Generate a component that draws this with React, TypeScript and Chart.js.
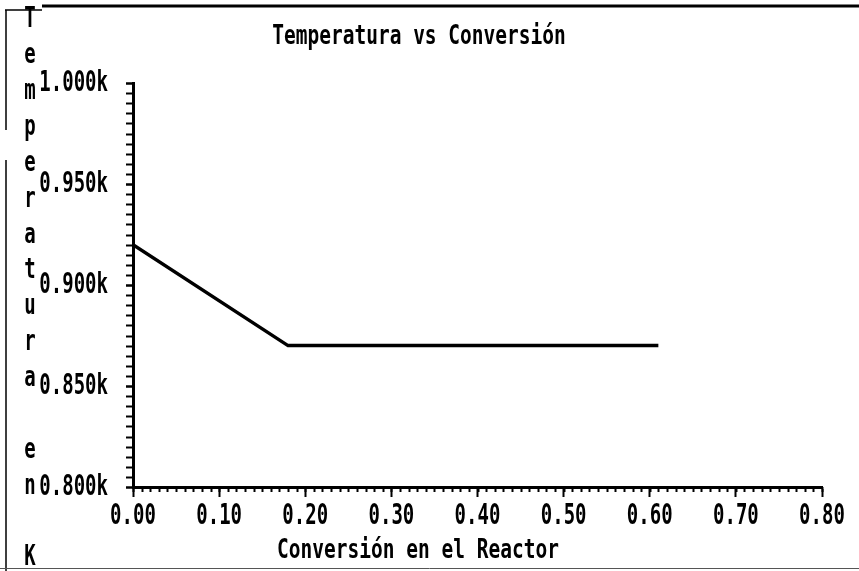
import React, { useEffect, useRef } from "react";
import { Chart, registerables } from "chart.js";

Chart.register(...registerables);

const conversion = [0, 0.18, 0.61];
const temperature = [920, 870, 870];
const chartTitle = "Temperatura vs Conversión";
const xTitle = "Conversión en el Reactor";
const yTitle = "Temperatura en K";
const xMin = 0;
const xMax = 0.8;
const xStep = 0.1;
const xMinorStep = 0.01;
const yMin = 800;
const yMax = 1000;
const yStep = 50;
const yMinorStep = 5;

const FONT = "'DejaVu Sans Mono', 'Liberation Mono', monospace";

function tallText(ctx: any, text: string, x: number, y: number, sy: number) {
  ctx.save();
  ctx.translate(x, y);
  ctx.scale(1, sy);
  ctx.fillText(text, 0, 0);
  ctx.restore();
}

const decorPlugin = {
  id: "decor",
  beforeDraw(chart: any) {
    const ctx = chart.ctx;
    ctx.save();
    ctx.fillStyle = "#ffffff";
    ctx.fillRect(0, 0, chart.width, chart.height);
    ctx.restore();
  },
  afterDraw(chart: any) {
    const ctx = chart.ctx;
    const xs = chart.scales.x;
    const ys = chart.scales.y;
    const area = chart.chartArea;
    ctx.save();
    ctx.strokeStyle = "#000";
    // minor x ticks
    ctx.lineWidth = 2;
    const nx = Math.round((xMax - xMin) / xMinorStep);
    for (let i = 0; i <= nx; i++) {
      const px = Math.round(xs.getPixelForValue(xMin + i * xMinorStep)) + 0.5;
      ctx.beginPath();
      ctx.moveTo(px, area.bottom);
      ctx.lineTo(px, area.bottom + 5);
      ctx.stroke();
    }
    // minor y ticks
    const ny = Math.round((yMax - yMin) / yMinorStep);
    for (let i = 0; i <= ny; i++) {
      const py = Math.round(ys.getPixelForValue(yMin + i * yMinorStep)) + 0.5;
      ctx.beginPath();
      ctx.moveTo(area.left - 7, py);
      ctx.lineTo(area.left, py);
      ctx.stroke();
    }
    // frame
    ctx.lineWidth = 3;
    ctx.beginPath();
    ctx.moveTo(42, 6);
    ctx.lineTo(chart.width, 6);
    ctx.stroke();
    ctx.lineWidth = 1.5;
    ctx.beginPath();
    ctx.moveTo(5, 10);
    ctx.lineTo(42, 10);
    ctx.moveTo(6, 10);
    ctx.lineTo(6, 130);
    ctx.moveTo(6, 160);
    ctx.lineTo(6, chart.height);
    ctx.stroke();
    ctx.strokeStyle = "#555";
    ctx.lineWidth = 1;
    ctx.beginPath();
    ctx.moveTo(0, 568.5);
    ctx.lineTo(chart.width, 568.5);
    ctx.stroke();
    // texts
    ctx.fillStyle = "#000";
    ctx.textBaseline = "middle";
    ctx.font = "bold 19px " + FONT;
    // tick labels (from the scales' own ticks)
    ctx.textAlign = "center";
    xs.ticks.forEach((t: any) => {
      const px = xs.getPixelForValue(t.value);
      tallText(ctx, Number(t.value).toFixed(2), px, 517, 1.5);
    });
    ctx.textAlign = "right";
    ys.ticks.forEach((t: any) => {
      const py = ys.getPixelForValue(t.value);
      tallText(ctx, (Number(t.value) / 1000).toFixed(3) + "k", 108, py + 1, 1.5);
    });
    ctx.textAlign = "center";
    ctx.font = "bold 19.5px " + FONT;
    tallText(ctx, chartTitle, 419, 37, 1.35);
    tallText(ctx, xTitle, 418, 551, 1.35);
    ctx.font = "bold 19px " + FONT;
    const letters = yTitle.split("");
    letters.forEach((ch, i) => {
      if (ch !== " ") tallText(ctx, ch, 30, 20 + i * 35.87, 1.5);
    });
    ctx.restore();
  },
};

export default function App() {
  const ref = useRef<HTMLCanvasElement | null>(null);
  useEffect(() => {
    if (!ref.current) return;
    const data = conversion.map((c, i) => ({ x: c, y: temperature[i] }));
    const chart = new Chart(ref.current, {
      type: "line",
      data: {
        datasets: [
          {
            data,
            borderColor: "#000",
            borderWidth: 3.5,
            pointRadius: 0,
            tension: 0,
            fill: false,
          },
        ],
      },
      options: {
        animation: false,
        responsive: false,
        events: [],
        layout: { padding: { top: 83, right: 37, left: 0, bottom: 0 } },
        plugins: {
          legend: { display: false },
          title: { display: false },
          tooltip: { enabled: false },
        },
        scales: {
          x: {
            type: "linear",
            min: xMin,
            max: xMax,
            afterFit: (s: any) => {
              s.height = 84;
            },
            border: { display: true, color: "#000", width: 3 },
            grid: {
              drawOnChartArea: false,
              drawTicks: true,
              tickLength: 10,
              tickWidth: 2,
              tickColor: "#000",
            },
            ticks: {
              stepSize: xStep,
              padding: 6,
              color: "rgba(0,0,0,0)",
              font: { family: FONT, size: 19, weight: "bold" },
              callback: (v: any) => Number(v).toFixed(2),
            },
          },
          y: {
            type: "linear",
            min: yMin,
            max: yMax,
            afterFit: (s: any) => {
              s.width = 133;
            },
            border: { display: true, color: "#000", width: 3 },
            grid: {
              drawOnChartArea: false,
              drawTicks: true,
              tickLength: 7,
              tickWidth: 2,
              tickColor: "#000",
            },
            ticks: {
              stepSize: yStep,
              padding: 18,
              color: "rgba(0,0,0,0)",
              font: { family: FONT, size: 19, weight: "bold" },
              callback: (v: any) => (Number(v) / 1000).toFixed(3) + "k",
            },
          },
        },
      },
      plugins: [decorPlugin],
    });
    return () => chart.destroy();
  }, []);
  return (
    <div style={{ position: "fixed", left: 0, top: 0, width: 859, height: 571 }}>
      <canvas ref={ref} width={859} height={571} style={{ display: "block" }} />
    </div>
  );
}
